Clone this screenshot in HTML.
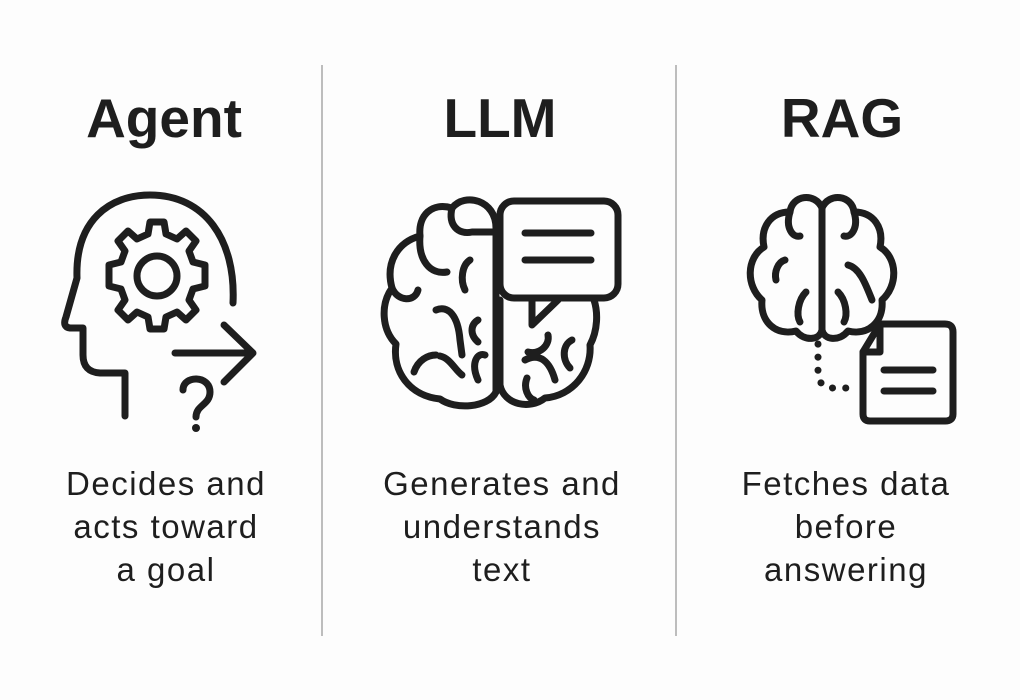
<!DOCTYPE html>
<html><head><meta charset="utf-8"><style>
html,body{margin:0;padding:0;background:#fdfdfd;}
svg{display:block}
text{font-family:"Liberation Sans",sans-serif;fill:#1e1e1e;text-anchor:middle}
.t{font-weight:bold;font-size:55px}
.d{font-size:33px;letter-spacing:1.5px}
.s{fill:none;stroke:#1e1e1e;stroke-width:7;stroke-linecap:round;stroke-linejoin:round}
</style></head><body>
<svg width="1020" height="700" viewBox="0 0 1020 700">
<rect width="1020" height="700" fill="#fdfdfd"/>
<line x1="322" y1="65" x2="322" y2="636" stroke="#bdbdbd" stroke-width="2"/>
<line x1="676" y1="65" x2="676" y2="636" stroke="#bdbdbd" stroke-width="2"/>
<text class="t" x="164" y="137">Agent</text>
<text class="t" x="500" y="137">LLM</text>
<text class="t" x="842" y="137">RAG</text>
<g class="d">
<text x="166" y="495">Decides and</text><text x="166" y="538">acts toward</text><text x="166" y="581">a goal</text>
<text x="502" y="495">Generates and</text><text x="502" y="538">understands</text><text x="502" y="581">text</text>
<text x="846" y="495">Fetches data</text><text x="846" y="538">before</text><text x="846" y="581">answering</text>
</g>
<!-- Agent -->
<g class="s">
<path d="M125,416 L125,373 L100,373 Q83,372 83,355 L83,328 L70,328 Q62,327 66,317 L77,278 C75,220 110,195 150,195 C205,195 236,240 233,303"/>
<path d="M150,222 L164,222 L166,234 L177,239 L186,231 L196,241 L189,251 L193,262 L205,265 L205,286 L193,289 L189,300 L196,310 L186,320 L177,312 L166,317 L164,329 L150,329 L148,317 L137,312 L128,320 L118,310 L125,300 L121,289 L109,286 L109,265 L121,262 L125,251 L118,241 L128,231 L137,239 L148,234 Z"/>
<circle cx="157" cy="276" r="20"/>
<line x1="175" y1="353" x2="250" y2="353"/>
<path d="M224,325 L253,353 L224,382"/>
<path d="M183,390 C183,375 210,375 210,392 C210,405 196,405 196,417"/>
</g>
<circle cx="196" cy="428" r="4" fill="#1e1e1e"/>
<!-- LLM -->
<g class="s">
<path d="M496,228 C496,200 465,192 452,208 C432,202 418,215 420,236 C398,242 385,262 392,288 C380,305 382,330 396,344 C392,372 410,396 440,399 C455,410 488,408 496,392 Z"/>
<path d="M420,236 C418,260 430,275 447,272"/><path d="M452,208 C448,225 458,235 472,232 L496,232"/>
<path d="M392,288 C398,302 415,302 418,290"/><path d="M470,260 C462,265 460,280 465,290"/>
<path d="M436,310 C448,305 458,315 460,340 L462,355"/><path d="M440,356 C450,358 455,370 462,375"/>
<path d="M478,320 C470,325 470,335 478,342"/><path d="M414,372 C418,360 428,355 436,355"/>
<path d="M485,355 C478,352 470,362 478,380"/>
<rect x="500" y="201" width="118" height="97" rx="14"/>
<path d="M532,300 L532,325 L558,300"/>
<line x1="525" y1="233" x2="591" y2="233"/><line x1="525" y1="260" x2="591" y2="260"/>
<path d="M500,300 L500,385 C504,405 530,410 545,398 C572,396 592,372 590,345 C598,330 598,312 594,300"/>
<path d="M525,360 C540,352 550,362 555,380"/><path d="M548,335 C550,345 540,355 528,352"/>
<path d="M527,378 C523,388 528,398 534,400"/><path d="M572,340 C562,345 562,360 570,368"/>
</g>
<!-- RAG -->
<g class="s">
<path d="M822,208 C815,192 792,195 790,212 C770,212 760,228 764,247 C746,258 746,286 762,300 C760,322 776,336 796,331 C805,342 820,340 822,330 Z"/>
<path d="M822,208 C829,192 852,195 854,212 C874,212 884,228 880,247 C898,258 898,286 882,300 C884,322 868,336 848,331 C839,342 824,340 822,330 Z"/>
<path d="M790,212 C785,228 793,238 800,236"/><path d="M854,212 C859,228 851,238 844,236"/>
<path d="M785,260 C778,262 774,272 776,280"/><path d="M848,265 C860,268 866,285 872,300"/>
<path d="M806,292 C798,300 796,315 800,322"/><path d="M838,292 C846,300 848,315 844,322"/>
</g>
<g fill="none" stroke="#1e1e1e" stroke-width="7" stroke-linecap="round" stroke-dasharray="0.1 13">
<path d="M818,344 L818,372 Q818,388 834,388 L858,388"/>
</g>
<g class="s">
<path d="M880,324 L945,324 Q953,324 953,332 L953,414 Q953,421 945,421 L870,421 Q863,421 863,414 L863,352 Z"/>
<path d="M880,324 L880,352 L863,352"/>
<line x1="884" y1="370" x2="933" y2="370"/><line x1="884" y1="391" x2="933" y2="391"/>
</g>
</svg>
</body></html>
